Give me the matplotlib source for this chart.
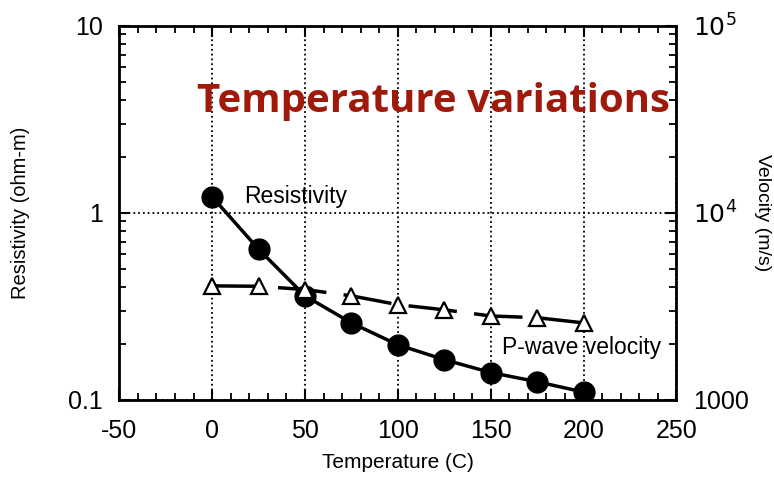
import matplotlib.pyplot as plt
from matplotlib.ticker import MultipleLocator, FixedLocator, FixedFormatter, LogLocator, NullFormatter

# data
temperature = [0, 25, 50, 75, 100, 125, 150, 175, 200]
resistivity = [1.22, 0.64, 0.36, 0.258, 0.197, 0.164, 0.14, 0.125, 0.11]
velocity = [4070, 4050, 3890, 3600, 3230, 3030, 2810, 2750, 2580]

plt.rcParams['font.family'] = ['Liberation Sans', 'DejaVu Sans']
plt.rcParams['axes.unicode_minus'] = False

fig = plt.figure(figsize=(7.74, 4.8), dpi=100)
ax = fig.add_axes([0.154, 0.167, 0.72, 0.779])
ax2 = ax.twinx()

ax.plot(temperature, resistivity, color='black', lw=2.5, marker='o', ms=15, zorder=3)
ax2.plot(temperature, velocity, color='black', lw=2.5, dashes=(14, 5),
         marker='^', ms=11, mfc='white', mec='black', mew=1.6, zorder=3)

ax.set_xlim(-50, 250)
ax.set_yscale('log')
ax.set_ylim(0.1, 10)
ax2.set_yscale('log')
ax2.set_ylim(1000, 1e5)

ax.xaxis.set_major_locator(MultipleLocator(50))
ax.xaxis.set_minor_locator(MultipleLocator(10))
ax.yaxis.set_major_locator(FixedLocator([0.1, 1, 10]))
ax.yaxis.set_major_formatter(FixedFormatter(['0.1', '1', '10']))
ax.yaxis.set_minor_locator(LogLocator(base=10, subs=range(2, 10)))
ax.yaxis.set_minor_formatter(NullFormatter())
ax2.yaxis.set_major_locator(FixedLocator([1000, 1e4, 1e5]))
ax2.yaxis.set_major_formatter(FixedFormatter(['1000', '$10^4$', '$10^5$']))
ax2.yaxis.set_minor_locator(LogLocator(base=10, subs=range(2, 10)))
ax2.yaxis.set_minor_formatter(NullFormatter())

ax.tick_params(which='both', direction='in', top=True, labelsize=18)
ax.tick_params(axis='x', pad=14)
ax.tick_params(axis='y', pad=12)
ax.tick_params(which='major', length=8, width=1.5)
ax.tick_params(which='minor', length=5, width=1.3)
ax2.tick_params(which='both', direction='in', labelsize=18, pad=12)
ax2.tick_params(which='major', length=8, width=1.5)
ax2.tick_params(which='minor', length=5, width=1.3)

ax.grid(True, which='major', linestyle=':', color='black', lw=1.3)
for sp in ax.spines.values():
    sp.set_linewidth(2)

ax.set_xlabel('Temperature (C)', fontsize=15, labelpad=7)
ax.set_ylabel('Resistivity (ohm-m)', fontsize=14.5, va='center')
ax.yaxis.set_label_coords(-0.178, 0.5)
ax2.set_ylabel('Velocity (m/s)', fontsize=14, rotation=270, va='center')
ax2.yaxis.set_label_coords(1.155, 0.5)

ax.text(17, 1.22, 'Resistivity', fontsize=16.5, va='center', ha='left')
ax.text(156, 0.19, 'P-wave velocity', fontsize=16.5, va='center', ha='left')

ax.text(0.14, 0.77, 'Temperature variations', transform=ax.transAxes, fontsize=29,
        fontweight='bold', color='#a01a0c', family=['Open Sans', 'DejaVu Sans'],
        va='baseline', ha='left', zorder=5)

fig.savefig('out.png', dpi=100)
